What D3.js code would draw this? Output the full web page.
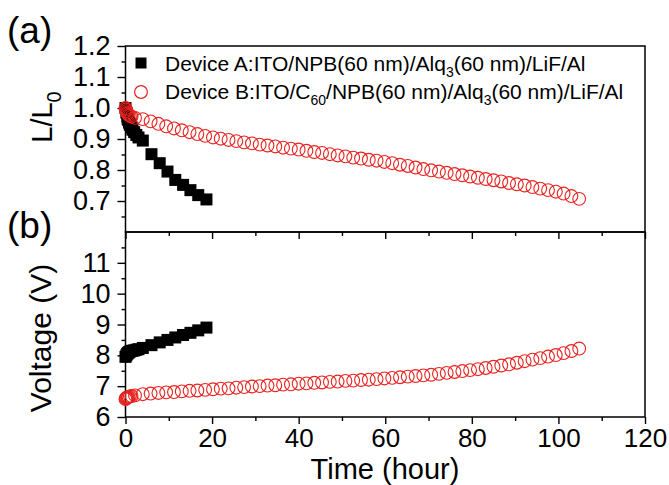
<!DOCTYPE html>
<html>
<head>
<meta charset="utf-8">
<script src="https://cdn.jsdelivr.net/npm/d3@7"></script>
<style>
body { margin:0; background:#fff; }
text { font-family:"Liberation Sans", Arial, sans-serif; }
</style>
</head>
<body>
<svg></svg>
<script>
var screen = {width:669,height:485}
var plot = {left:125.5,right:645,top:46,mid:232,bottom:417}

// device A (squares)
var timeA = [0,0.2,0.4,0.6,0.8,1.0,1.3,1.6,2.0,2.5,3.0,4.0,6.0,7.9,9.7,11.5,13.3,15.0,16.8,18.7]
var lumA = [1.0,0.985,0.972,0.962,0.953,0.946,0.937,0.93,0.922,0.913,0.905,0.895,0.851,0.822,0.795,0.768,0.752,0.735,0.719,0.705]
var voltA = [7.95,8.0,8.05,8.08,8.1,8.12,8.14,8.15,8.16,8.18,8.2,8.24,8.33,8.42,8.5,8.58,8.66,8.73,8.81,8.9]

// device B (open circles)
var timeB = [0,0.1,0.2,0.35,0.5,0.7,1.0,1.4,2.2,
  4.0,5.8,7.6,9.4,11.2,13.0,14.8,16.6,18.4,20.2,22.0,23.8,25.6,27.4,29.2,31.0,32.8,34.6,36.4,38.2,
  40.0,41.8,43.6,45.4,47.2,49.0,50.8,52.6,54.4,56.2,58.0,59.8,61.6,63.4,65.2,67.0,68.8,70.6,72.4,74.2,
  76.0,77.8,79.6,81.4,83.2,85.0,86.8,88.6,90.4,92.2,94.0,95.8,97.6,99.4,101.2,103.0,104.8]
var lumB = [1.0,0.995,0.99,0.985,0.982,0.978,0.975,0.972,0.968,
  0.964,0.957,0.949,0.941,0.934,0.928,0.922,0.916,0.910,0.905,0.901,0.897,0.893,0.889,0.886,0.882,0.879,0.876,0.872,0.869,
  0.866,0.862,0.858,0.855,0.851,0.847,0.844,0.840,0.837,0.833,0.830,0.826,0.822,0.817,0.813,0.808,0.803,0.799,0.795,0.791,
  0.787,0.783,0.779,0.775,0.771,0.767,0.763,0.758,0.754,0.750,0.745,0.740,0.735,0.730,0.724,0.716,0.707]
var voltB = [6.58,6.6,6.62,6.63,6.64,6.65,6.67,6.68,6.7,
  6.74,6.76,6.78,6.80,6.81,6.83,6.85,6.86,6.88,6.90,6.92,6.93,6.95,6.97,6.99,7.00,7.02,7.03,7.05,7.06,
  7.08,7.09,7.11,7.12,7.14,7.15,7.17,7.18,7.20,7.21,7.23,7.25,7.27,7.29,7.31,7.33,7.35,7.37,7.40,7.43,
  7.46,7.49,7.52,7.55,7.59,7.63,7.67,7.71,7.76,7.81,7.86,7.91,7.96,8.01,8.07,8.14,8.22]

var xTicks = [0,20,40,60,80,100,120]
var xMinor = [10,30,50,70,90,110]
var lumTicks = [0.7,0.8,0.9,1.0,1.1,1.2]
var lumMinor = [0.65,0.75,0.85,0.95,1.05,1.15]
var voltTicks = [6,7,8,9,10,11]
var voltMinor = [6.5,7.5,8.5,9.5,10.5,11.5]

var red = "#e8221f"

var svg = d3.select("svg")
  .attr("width",screen.width)
  .attr("height",screen.height)

var xScale = d3.scaleLinear().domain([0,120]).range([plot.left,plot.right])
var yLum = d3.scaleLinear().domain([0.6,1.2]).range([plot.mid,plot.top])
var yVolt = d3.scaleLinear().domain([6,12]).range([plot.bottom,plot.mid])

var styleAxis = function(g, size)
{
  g.select(".domain").remove()
  g.selectAll("line").attr("stroke","#000").attr("stroke-width",1.4)
  g.selectAll("text").attr("fill","#000").style("font-size",size+"px")
}

var drawAxes = function(yScale, yTicks, yMinor, fmt, yTop, yBot, labels)
{
  svg.append("g")
    .attr("transform","translate("+plot.left+",0)")
    .call(d3.axisLeft(yScale).tickValues(yTicks).tickSize(8).tickPadding(7).tickFormat(fmt))
    .call(styleAxis,27)
  svg.append("g")
    .attr("transform","translate("+plot.left+",0)")
    .call(d3.axisLeft(yScale).tickValues(yMinor).tickSize(4).tickFormat(""))
    .call(styleAxis,27)

  var xa = d3.axisBottom(xScale).tickValues(xTicks).tickSize(7).tickPadding(5)
  if (!labels) xa.tickFormat("")
  svg.append("g")
    .attr("transform","translate(0,"+yBot+")")
    .call(xa)
    .call(styleAxis,26)
  svg.append("g")
    .attr("transform","translate(0,"+yBot+")")
    .call(d3.axisBottom(xScale).tickValues(xMinor).tickSize(4).tickFormat(""))
    .call(styleAxis,26)

  svg.append("rect")
    .attr("x",plot.left).attr("y",yTop)
    .attr("width",plot.right-plot.left).attr("height",yBot-yTop)
    .attr("fill","none").attr("stroke","#000").attr("stroke-width",1.5)
}

drawAxes(yLum, lumTicks, lumMinor, d3.format(".1f"), plot.top, plot.mid, false)
drawAxes(yVolt, voltTicks, voltMinor, d3.format("d"), plot.mid, plot.bottom, true)

var panels = [{y:yLum, a:lumA, b:lumB},{y:yVolt, a:voltA, b:voltB}]

panels.forEach(function(p)
{
  svg.append("g")
    .selectAll("rect")
    .data(timeA)
    .enter()
    .append("rect")
    .attr("x",function(t){return xScale(t)-6})
    .attr("y",function(t,i){return p.y(p.a[i])-6})
    .attr("width",12)
    .attr("height",12)
    .attr("fill","#000")

  svg.append("g")
    .selectAll("circle")
    .data(timeB)
    .enter()
    .append("circle")
    .attr("cx",function(t){return xScale(t)})
    .attr("cy",function(t,i){return p.y(p.b[i])})
    .attr("r",6.4)
    .attr("fill","none")
    .attr("stroke",red)
    .attr("stroke-width",1.1)
})

// legend
svg.append("rect").attr("x",135.5).attr("y",57.5).attr("width",11).attr("height",11).attr("fill","#000")
svg.append("circle").attr("cx",141).attr("cy",92).attr("r",6.4)
  .attr("fill","none").attr("stroke",red).attr("stroke-width",1.2)

var legA = svg.append("text").attr("x",165).attr("y",71).style("font-size","21px")
legA.append("tspan").text("Device A:ITO/NPB(60 nm)/Alq")
legA.append("tspan").attr("dy",6).style("font-size","14px").text("3")
legA.append("tspan").attr("dy",-6).text("(60 nm)/LiF/Al")

var legB = svg.append("text").attr("x",165).attr("y",99).style("font-size","21px")
legB.append("tspan").text("Device B:ITO/C")
legB.append("tspan").attr("dy",6).style("font-size","14px").text("60")
legB.append("tspan").attr("dy",-6).text("/NPB(60 nm)/Alq")
legB.append("tspan").attr("dy",6).style("font-size","14px").text("3")
legB.append("tspan").attr("dy",-6).text("(60 nm)/LiF/Al")

// panel letters and titles
svg.append("text").attr("x",7).attr("y",43).style("font-size","37px").text("(a)")
svg.append("text").attr("x",7).attr("y",238).style("font-size","37px").text("(b)")

var lt = svg.append("text")
  .attr("transform","translate(52,117) rotate(-90)")
  .attr("text-anchor","middle")
  .style("font-size","29px")
lt.append("tspan").text("L/L")
lt.append("tspan").attr("dy",9).style("font-size","20px").text("0")

svg.append("text")
  .attr("transform","translate(51,338) rotate(-90)")
  .attr("text-anchor","middle")
  .style("font-size","30px")
  .text("Voltage (V)")

svg.append("text")
  .attr("x",385).attr("y",479)
  .attr("text-anchor","middle")
  .style("font-size","29px")
  .text("Time (hour)")
</script>
</body>
</html>
